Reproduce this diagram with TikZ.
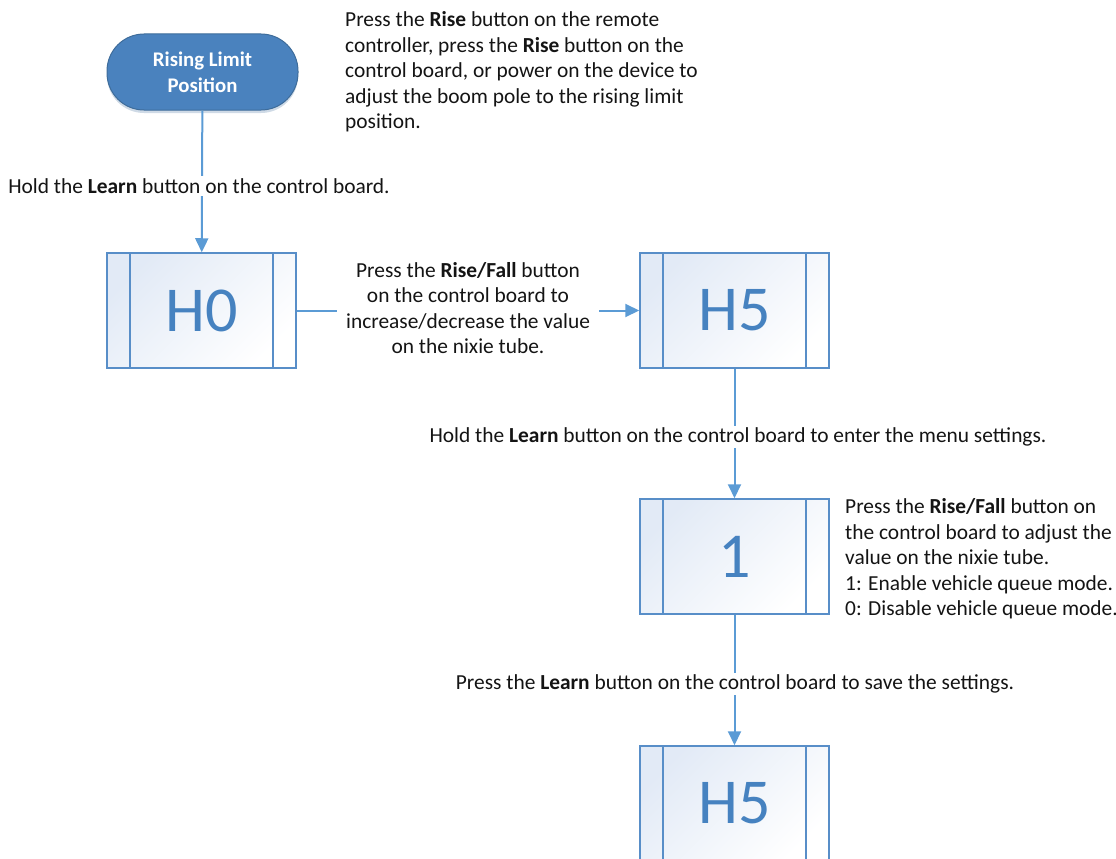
\documentclass[tikz,border=0pt]{standalone}
\usepackage{fontspec}
\setmainfont{Carlito}
\usetikzlibrary{arrows.meta,shadows}
\definecolor{conncol}{RGB}{91,155,213}
\definecolor{termfill}{RGB}{74,130,190}
\definecolor{termdraw}{RGB}{62,108,154}
\definecolor{boxdraw}{RGB}{88,142,200}
\definecolor{boxfill}{RGB}{226,234,246}
\definecolor{bigtext}{RGB}{70,130,192}
\definecolor{txt}{RGB}{20,20,20}
\tikzset{
  term/.style={rectangle, rounded corners=37pt, minimum width=191pt, minimum height=76pt,
    fill=termfill, draw=termdraw, line width=1pt, text=white, align=center,
    font=\fontsize{20.8}{26}\selectfont\bfseries,
    drop shadow={shadow xshift=0pt, shadow yshift=-3pt, opacity=0.25, fill=termdraw}},
  proc/.style={rectangle, minimum width=189pt, minimum height=115pt,
    draw=boxdraw, line width=1.5pt, top color=boxfill, bottom color=white, shading angle=45,
    text=bigtext, font=\fontsize{64}{64}\selectfont,
    path picture={
      \draw[boxdraw, line width=1.5pt]
        ([xshift=23pt]path picture bounding box.north west) -- ([xshift=23pt]path picture bounding box.south west)
        ([xshift=-23pt]path picture bounding box.north east) -- ([xshift=-23pt]path picture bounding box.south east);
    }},
  conn/.style={draw=conncol, line width=2pt, -{Triangle[length=14pt,width=13pt]}},
  lbl/.style={text=txt, font=\fontsize{21.4}{25.5}\selectfont, fill=white, inner xsep=9pt, inner ysep=2pt},
  note/.style={text=txt, font=\fontsize{21.4}{25.5}\selectfont, align=left, inner sep=0pt, anchor=west}
}
\begin{document}
\begin{tikzpicture}[x=1pt,y=-1pt]
\useasboundingbox (0,0) rectangle (1116,859);
\clip (0,0) rectangle (1116,859);
\node[term] (start) at (202.5,72) {Rising Limit\\Position};
\node[proc] (h0) at (201.5,310.5) {H0};
\node[proc] (h5a) at (734.5,310.5) {H5};
\node[proc] (one) at (734.5,556.5) {1};
\node[proc] (h5b) at (734.5,803.5) {H5};
\draw[conn] (start) -- (h0);
\draw[conn] (h0) -- (h5a);
\draw[conn] (h5a) -- (one);
\draw[conn] (one) -- (h5b);
\node[lbl] (l1) at (199,186) {Hold the \textbf{Learn} button on the control board.};
\node[lbl, align=center] (l2) at (468,308) {Press the \textbf{Rise/Fall} button\\on the control board to\\increase/decrease the value\\on the nixie tube.};
\node[lbl] (l3) at (738,437) {Hold the \textbf{Learn} button on the control board to enter the menu settings.};
\node[lbl] (l4) at (735,684) {Press the \textbf{Learn} button on the control board to save the settings.};
\node[note] (n1) at (345,72) {Press the \textbf{Rise} button on the remote\\controller, press the \textbf{Rise} button on the\\control board, or power on the device to\\adjust the boom pole to the rising limit\\position.};
\node[note] (n2) at (845,559) {Press the \textbf{Rise/Fall} button on\\the control board to adjust the\\value on the nixie tube.\\1: Enable vehicle queue mode.\\0: Disable vehicle queue mode.};
\end{tikzpicture}
\end{document}
